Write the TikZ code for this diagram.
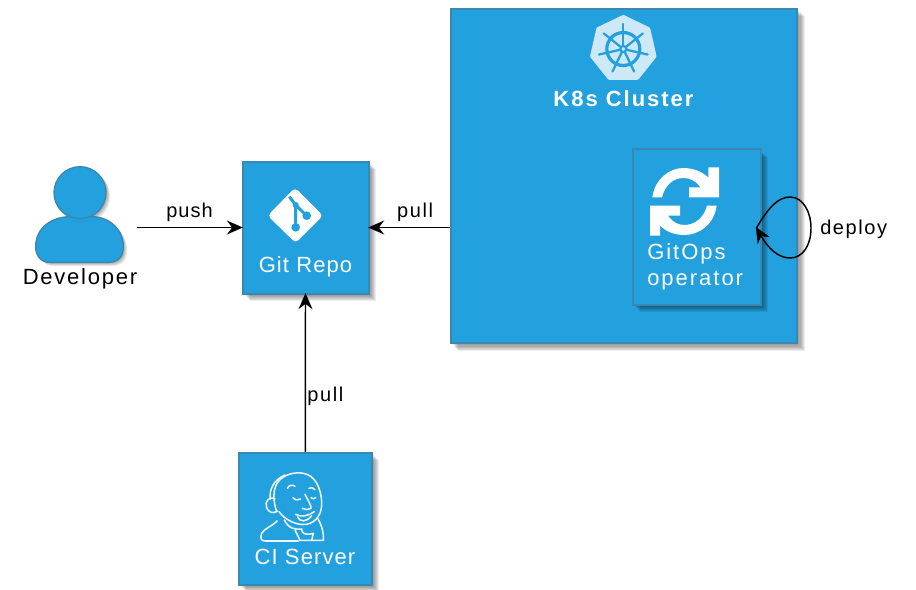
\documentclass[tikz,border=0pt]{standalone}
\usepackage{fontspec}
\setmainfont{Liberation Sans}
\newfontfamily\lsA[LetterSpace=5]{Liberation Sans}
\newfontfamily\lsB[LetterSpace=8]{Liberation Sans}
\newfontfamily\lsC[LetterSpace=9]{Liberation Sans}
\usetikzlibrary{arrows.meta}
\definecolor{kfill}{HTML}{23A1DE}
\definecolor{kedge}{HTML}{3A88AF}
\definecolor{kwheel}{HTML}{CDE8F7}
\tikzset{
  shadowlayer/.style={preaction={fill=black,opacity=.075,transform canvas={shift={(#1,-#1)}}}},
  softshadow/.style={shadowlayer=.8pt,shadowlayer=1.6pt,shadowlayer=2.4pt,shadowlayer=3.2pt,shadowlayer=4pt,shadowlayer=4.8pt,shadowlayer=5.6pt},
  bluebox/.style={softshadow,rectangle,fill=kfill,draw=kedge,line width=1.5pt,inner sep=0pt},
  whitetext/.style={text=white,inner sep=0pt,font=\fontsize{16.5}{19.5}\selectfont},
  blacktext/.style={text=black,inner sep=0pt,font=\fontsize{15}{18}\selectfont},
  conn/.style={draw=black,line width=1.1pt,shorten >=-1pt,-{Stealth[length=12pt,width=10.5pt,inset=4pt]}},
  icon/.style={shift={(#1)},x=.25pt,y=-.25pt},
  whiteline/.style={draw=white,line width=1.15pt,line cap=round,line join=round,opacity=.9}
}
\begin{document}
\begin{tikzpicture}[x=.75pt,y=-.75pt]
\useasboundingbox (0,0) rectangle (916,589);
\fill[white] (0,0) rectangle (916,589);
% boxes
\node[bluebox,minimum width=260pt,minimum height=251pt] (k8s) at (624,176) {};
\node[bluebox,minimum width=96pt,minimum height=116.5pt] (op) at (697,227) {};
\node[bluebox,minimum width=94.5pt,minimum height=99pt] (git) at (305.5,227.5) {};
\node[bluebox,minimum width=99.5pt,minimum height=99pt] (ci) at (305.3,519) {};
% developer icon
\begin{scope}[icon={15,155}]
  \foreach \k in {1,2,3,4}{
    \fill[black,opacity=.09,xshift=\k*.7pt,yshift=-\k*.7pt]
      (195,113) circle[radius=79];
    \fill[black,opacity=.09,xshift=\k*.7pt,yshift=-\k*.7pt]
      (62,275) .. controls (62,215) and (115,185) .. (165,185) -- (230,185)
      .. controls (285,185) and (325,225) .. (325,275)
      .. controls (325,310) and (305,322) .. (280,322) -- (105,322)
      .. controls (80,322) and (62,305) .. (62,275) -- cycle;
  }
  \path[fill=kfill,draw=kedge,line width=1pt] (62,275) .. controls (62,215) and (115,185) .. (165,185) -- (230,185)
      .. controls (285,185) and (325,225) .. (325,275)
      .. controls (325,310) and (305,322) .. (280,322) -- (105,322)
      .. controls (80,322) and (62,305) .. (62,275) -- cycle;
  \path[fill=kfill,draw=kedge,line width=1pt] (195,113) circle[radius=78];
\end{scope}
% git icon
\begin{scope}[icon={230,150}]
  \fill[white,rounded corners=3pt] (195,113) -- (279,197) -- (197,279) -- (113,197) -- cycle;
  \draw[kfill,line width=2.2pt] (178,140) -- (197,165) -- (197,232) (197,165) -- (230,197);
  \fill[kfill] (197,232) circle[radius=13] (230,197) circle[radius=13] (197,165) circle[radius=9];
\end{scope}
% kubernetes icon
\begin{scope}[shift={(623.3,49)},x=.75pt,y=.75pt]
  \fill[kwheel,draw=kwheel,line width=3pt,line join=round]
    (90:32) -- (90+360/7:32) -- (90+720/7:32) -- (90+1080/7:32) -- (90+1440/7:32) -- (90+1800/7:32) -- (90+2160/7:32) -- cycle;
  \draw[kfill,line width=2.4pt] (0,0) circle[radius=16.5];
  \foreach \k in {0,...,6}{
    \draw[kfill,line width=1.7pt,line cap=round] (90+\k*360/7:3.5) -- (90+\k*360/7:25);
  }
  \draw[kfill,line width=1.6pt] (0,0) circle[radius=3];
\end{scope}
% sync icon
\begin{scope}[icon={625,140}]
  \fill[white] (82,172) .. controls (90,115) and (135,84) .. (175,84)
     .. controls (205,84) and (232,95) .. (250,113) -- (250,82) -- (282,82) -- (282,172) -- (192,172) -- (192,142) -- (226,142)
     .. controls (212,122) and (195,114) .. (175,114)
     .. controls (145,114) and (120,135) .. (111,172) -- cycle;
  \fill[white] (275,197) .. controls (267,254) and (222,285) .. (178,285)
     .. controls (148,285) and (121,274) .. (105,256) -- (105,287) -- (75,287) -- (75,197) -- (165,197) -- (165,227) -- (129,227)
     .. controls (143,247) and (160,255) .. (178,255)
     .. controls (208,255) and (237,234) .. (246,197) -- cycle;
\end{scope}
% jenkins icon
\begin{scope}[icon={255,465},whiteline]
  \draw (65,140) .. controls (55,110) and (52,75) .. (68,52) .. controls (85,28) and (120,20) .. (145,25)
        .. controls (180,30) and (198,70) .. (200,110) .. controls (202,145) and (185,172) .. (155,178)
        .. controls (125,182) and (90,165) .. (72,140);
  \draw (46,102) .. controls (42,75) and (55,45) .. (90,30);
  \draw (60,102) .. controls (42,92) and (28,110) .. (35,128) .. controls (40,142) and (55,148) .. (67,138);
  \draw (66,168) .. controls (50,185) and (28,190) .. (20,205) .. controls (14,220) and (20,228) .. (30,228) -- (130,228);
  \draw (88,165) .. controls (100,190) and (120,195) .. (140,192);
  \draw (120,195) -- (135,226) -- (175,226) -- (205,226) .. controls (207,205) and (200,180) .. (188,160);
  \draw (140,192) .. controls (140,205) and (150,212) .. (175,205) -- (170,226);
  \draw (97,70) .. controls (102,60) and (112,58) .. (120,64);
  \draw (162,70) .. controls (168,66) and (175,68) .. (180,74);
  \draw (114,98) .. controls (120,106) and (130,106) .. (137,102);
  \draw (168,98) .. controls (172,102) and (178,102) .. (182,98);
  \draw (150,88) .. controls (158,105) and (170,122) .. (168,130) .. controls (160,136) and (150,134) .. (142,130);
  \draw (122,148) .. controls (140,158) and (160,152) .. (178,140);
  \draw (128,156) .. controls (135,172) and (155,172) .. (170,152);
\end{scope}
% texts
\node[whitetext] (gitlabel) at (305.5,267) {\lsA Git Repo};
\node[whitetext] (cilabel) at (305,557) {\lsA CI Server};
\node[whitetext,font=\fontsize{16.5}{19.5}\selectfont\bfseries,anchor=center] (k8slabel) at (623.5,98.5) {\lsC\bfseries K8s Cluster};
\node[whitetext,align=left,anchor=west] (oplabel) at (647,267) {\lsC GitOps\\\lsC operator};
\node[blacktext,font=\fontsize{16.5}{19.5}\selectfont] (dev) at (80,279) {\lsB Developer};
% connectors
\coordinate (looptip) at (756.5,228);
\draw[conn] (dev.east |- git.west) -- (git.west) node[pos=.5,blacktext,above=3.8pt] (pushl) {\lsA push};
\draw[conn] (k8s.west |- git.east) -- (git.east) node[pos=.43,blacktext,above=3.8pt] (pull1) {\lsB pull};
\draw[conn] (ci.north) -- (git.south) node[pos=.37,blacktext,right=1pt,yshift=-2pt] (pull2) {\lsB pull};
\draw[conn] (looptip) .. controls (768,208) and (778,197) .. (790,197) .. controls (803,197) and (811,212) .. (811,228)
   .. controls (811,245) and (803,258) .. (790,258) .. controls (778,258) and (768,248) .. (looptip);
\node[blacktext,anchor=west] (deploy) at (820,229.5) {\lsB deploy};
\end{tikzpicture}
\end{document}
